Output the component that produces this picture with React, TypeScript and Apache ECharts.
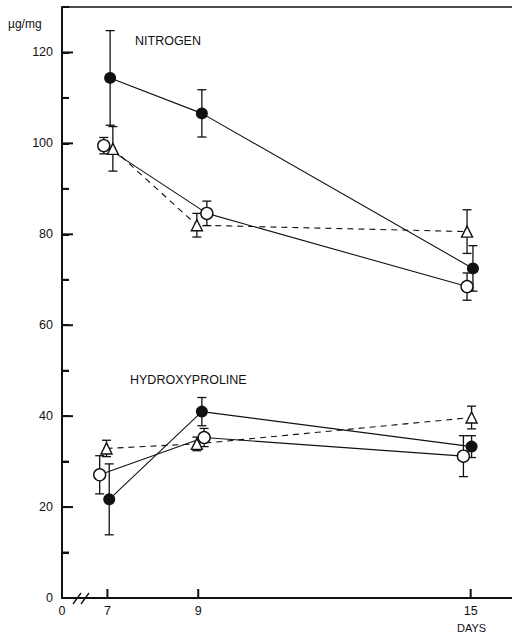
import React, { useEffect, useRef } from "react";
import * as echarts from "echarts";

// x positions (days, with the slight horizontal offsets used in the original figure)
const nFilledX = [7.06, 9.08, 15.05];
const nOpenX = [6.92, 9.19, 14.92];
const nTriX = [7.12, 8.97, 14.92];
const hFilledX = [7.04, 9.08, 15.02];
const hOpenX = [6.83, 9.13, 14.84];
const hTriX = [6.98, 8.97, 15.02];

// Nitrogen (µg/mg)
const nFilled = [114.4, 106.6, 72.5];
const nFilledErr = [10.4, 5.2, 5.0];
const nOpen = [99.5, 84.6, 68.5];
const nOpenErr = [1.8, 2.7, 3.0];
const nTri = [98.8, 82.0, 80.6];
const nTriErr = [4.9, 2.6, 4.8];

// Hydroxyproline (µg/mg)
const hFilled = [21.7, 41.0, 33.3];
const hFilledErr = [7.8, 3.1, 2.4];
const hOpen = [27.1, 35.3, 31.2];
const hOpenErr = [4.2, 2.0, 4.5];
const hTri = [32.9, 33.9, 39.7];
const hTriErr = [1.8, 1.5, 2.5];

const yLabelValues = [0, 20, 40, 60, 80, 100, 120];
const yMajorTicks = [20, 40, 60, 80, 100, 120];
const yMinorTicks = [10, 30, 50, 70, 90, 110];
const xLabelValues = [6, 7, 9, 15];
const xTickValues = [7, 9, 15];

const X_MIN = 6;
const X_MAX = 15.91;
const FONT = "Liberation Sans";
const INK = "#111";

function pts(xs: number[], ys: number[]) {
  return xs.map((x, i) => [x, ys[i]]);
}
function errs(xs: number[], ys: number[], es: number[]) {
  return xs.map((x, i) => [x, ys[i] - es[i], ys[i] + es[i]]);
}

export default function App() {
  const ref = useRef<HTMLDivElement>(null);
  useEffect(() => {
    if (!ref.current) return;
    const chart = echarts.init(ref.current, undefined, { renderer: "svg" });

    const errSeries = (data: number[][]) => ({
      type: "custom",
      z: 1,
      silent: true,
      data,
      encode: { x: 0, y: [1, 2] },
      renderItem: (params: any, api: any) => {
        const x = api.value(0);
        const lo = api.coord([x, api.value(1)]);
        const hi = api.coord([x, api.value(2)]);
        const w = 4.5;
        return {
          type: "group",
          children: [
            { type: "line", shape: { x1: lo[0], y1: lo[1], x2: hi[0], y2: hi[1] }, style: { stroke: INK, lineWidth: 1.3 } },
            { type: "line", shape: { x1: lo[0] - w, y1: lo[1], x2: lo[0] + w, y2: lo[1] }, style: { stroke: INK, lineWidth: 1.3 } },
            { type: "line", shape: { x1: hi[0] - w, y1: hi[1], x2: hi[0] + w, y2: hi[1] }, style: { stroke: INK, lineWidth: 1.3 } },
          ],
        };
      },
    });

    const lineSeries = (data: number[][], kind: "filled" | "open" | "tri") => ({
      type: "line",
      z: 3,
      data,
      symbol: kind === "tri" ? "triangle" : "circle",
      symbolSize: kind === "tri" ? 11 : 12,
      lineStyle: { color: INK, width: 1.1, type: kind === "tri" ? [6, 5] : "solid" },
      itemStyle: {
        color: kind === "filled" ? INK : "#fff",
        borderColor: INK,
        borderWidth: kind === "filled" ? 0 : 1.4,
      },
      showSymbol: true,
      silent: true,
    });

    chart.setOption({
      animation: false,
      grid: { left: 62, top: 7, right: 0, bottom: 40 },
      xAxis: {
        type: "value",
        min: X_MIN,
        max: X_MAX,
        interval: 1,
        splitLine: { show: false },
        axisLine: { show: true, lineStyle: { color: INK, width: 2 } },
        axisTick: { show: false },
        axisLabel: {
          show: true,
          showMaxLabel: false,
          formatter: (v: number) =>
            xLabelValues.indexOf(v) >= 0 ? (v === X_MIN ? "0" : String(v)) : "",
          color: INK,
          fontSize: 12.5,
          fontFamily: FONT,
          margin: 6,
        },
      },
      yAxis: {
        type: "value",
        min: 0,
        max: 130,
        interval: 10,
        splitLine: { show: false },
        axisLine: { show: true, lineStyle: { color: INK, width: 2 } },
        axisTick: { show: true, inside: true, length: 7, lineStyle: { color: INK, width: 2 } },
        axisLabel: {
          show: true,
          formatter: (v: number) => (yLabelValues.indexOf(v) >= 0 ? String(v) : ""),
          color: INK,
          fontSize: 12.5,
          fontFamily: FONT,
          margin: 9,
        },
      },
      series: [
        errSeries(errs(nFilledX, nFilled, nFilledErr)),
        errSeries(errs(nOpenX, nOpen, nOpenErr)),
        errSeries(errs(nTriX, nTri, nTriErr)),
        errSeries(errs(hFilledX, hFilled, hFilledErr)),
        errSeries(errs(hOpenX, hOpen, hOpenErr)),
        errSeries(errs(hTriX, hTri, hTriErr)),
        lineSeries(pts(nFilledX, nFilled), "filled"),
        lineSeries(pts(nOpenX, nOpen), "open"),
        lineSeries(pts(nTriX, nTri), "tri"),
        lineSeries(pts(hFilledX, hFilled), "filled"),
        lineSeries(pts(hOpenX, hOpen), "open"),
        lineSeries(pts(hTriX, hTri), "tri"),
      ],
    });

    // ticks placed through the chart's own scales
    const graphics: any[] = [
      { type: "line", shape: { x1: 62, y1: 7, x2: 512, y2: 7 }, style: { stroke: INK, lineWidth: 1.5 } },
      { type: "text", left: 8, top: 18, style: { text: "µg/mg", font: `12px "${FONT}"`, fill: INK } },
      { type: "text", left: 135, top: 34, style: { text: "NITROGEN", font: `12.5px "${FONT}"`, fill: INK } },
      { type: "text", left: 130, top: 373, style: { text: "HYDROXYPROLINE", font: `12.5px "${FONT}"`, fill: INK } },
      { type: "text", left: 457, top: 622, style: { text: "DAYS", font: `11px "${FONT}"`, fill: INK } },
      { type: "rect", shape: { x: 77, y: 596, width: 9, height: 4 }, style: { fill: "#fff" } },
      { type: "line", shape: { x1: 73, y1: 604, x2: 81, y2: 593 }, style: { stroke: INK, lineWidth: 1.3 } },
      { type: "line", shape: { x1: 81, y1: 604, x2: 89, y2: 593 }, style: { stroke: INK, lineWidth: 1.3 } },
    ];
    const toPx = (x: number, y: number) =>
      chart.convertToPixel({ xAxisIndex: 0, yAxisIndex: 0 }, [x, y]) as number[];
    yMajorTicks.forEach((v) => {
      const p = toPx(X_MIN, v);
      graphics.push({ type: "line", shape: { x1: p[0], y1: p[1], x2: p[0] + 11, y2: p[1] }, style: { stroke: INK, lineWidth: 2 } });
    });
    yMinorTicks.forEach((v) => {
      const p = toPx(X_MIN, v);
      graphics.push({ type: "line", shape: { x1: p[0], y1: p[1], x2: p[0] + 7, y2: p[1] }, style: { stroke: INK, lineWidth: 2 } });
    });
    xTickValues.forEach((v) => {
      const p = toPx(v, 0);
      graphics.push({ type: "line", shape: { x1: p[0], y1: p[1], x2: p[0], y2: p[1] - 9 }, style: { stroke: INK, lineWidth: 2 } });
    });
    chart.setOption({ graphic: graphics });

    return () => chart.dispose();
  }, []);
  return (
    <div
      ref={ref}
      style={{ position: "absolute", left: 0, top: 0, width: 512, height: 638, background: "#fff" }}
    />
  );
}
